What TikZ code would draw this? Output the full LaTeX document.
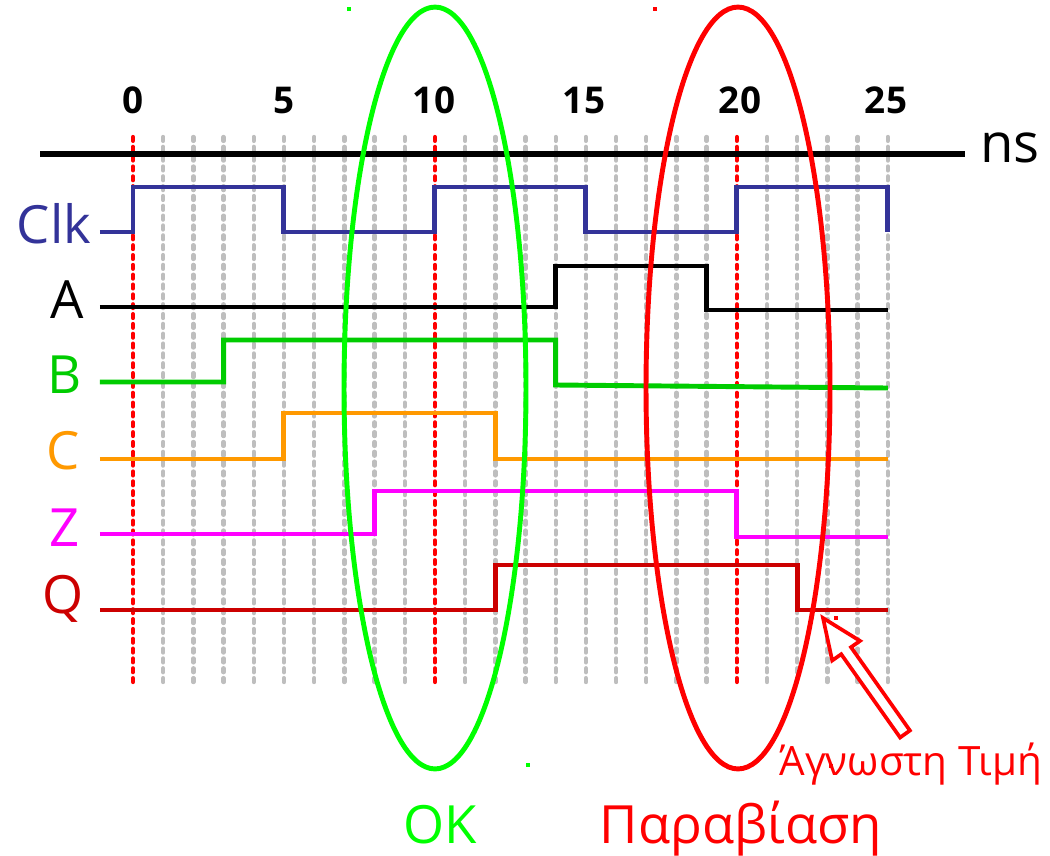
\documentclass[tikz,border=0pt]{standalone}
\usepackage{fontspec}
\setmainfont{Open Sans}
\definecolor{clkblue}{HTML}{333399}
\definecolor{bgreen}{HTML}{00CC00}
\definecolor{corange}{HTML}{FF9900}
\definecolor{zmag}{HTML}{FF00FF}
\definecolor{qred}{HTML}{CC0000}
\definecolor{ellgreen}{HTML}{00FF00}
\definecolor{ellred}{HTML}{FF0000}
\definecolor{gridgray}{HTML}{BEBEBE}
\tikzset{
  gridline/.style={draw=gridgray, line width=2.5pt, line cap=round, dash pattern=on 2.2pt off 3.4pt},
  redline/.style={draw=ellred, line width=2.4pt, line cap=round, dash pattern=on 2.2pt off 3.4pt},
  sig/.style={line width=2.8pt},
  lbl/.style={inner sep=0pt, anchor=base, font=\fontsize{30}{36}\selectfont},
  num/.style={inner sep=0pt, anchor=base, font=\fontsize{21}{26}\selectfont\bfseries},
  ell/.style={line width=2.8pt},
  dot/.style={inner sep=0pt, minimum size=2.2pt}
}
\begin{document}
\begin{tikzpicture}[x=0.02cm,y=-0.02cm]
\useasboundingbox (0,0) rectangle (1050,855);
% time scope: x in ns
\begin{scope}[x=0.604cm, xshift=2.66cm]
  \foreach \t in {1,...,9,11,12,...,19,21,22,...,25}
    \draw[gridline] (\t,137) -- (\t,684);
  \foreach \t in {0,10,20}
    \draw[redline] (\t,137) -- (\t,684);
\end{scope}
% time axis
\draw[line width=3pt] (40,154) -- (965,154);
\node[lbl, font=\fontsize{31}{36}\selectfont] (ns) at (1010,162) {ns};
\foreach \v/\x in {0/133,5/284,10/434,15/584,20/740,25/886}
  \node[num] (n\v) at (\x,113) {\v};
% signal labels
\node[lbl, text=clkblue] (lclk) at (54,243) {Clk};
\node[lbl, text=black] (lA) at (67,318) {A};
\node[lbl, text=bgreen] (lB) at (65,393) {B};
\node[lbl, text=corange] (lC) at (63,469) {C};
\node[lbl, text=zmag] (lZ) at (65,546) {Z};
\node[lbl, text=qred] (lQ) at (63,613) {Q};
% signals
\begin{scope}[x=0.604cm, xshift=2.66cm]
  \draw[sig, clkblue] (-1.1,232) -| (0,187) -| (5,232) -| (10,187) -| (15,232) -| (20,187) -| (25,232);
  \draw[sig, black] (-1.1,307) -| (14,266) -| (19,310) -- (25,310);
  \draw[sig, bgreen] (-1.1,382) -| (3,340) -| (14,385) -- (25,388);
  \draw[sig, corange] (-1.1,459) -| (5,413) -| (12,459) -- (25,459);
  \draw[sig, zmag] (-1.1,534) -| (8,491) -| (20,537) -- (25,537);
  \draw[sig, qred] (-1.1,610) -| (12,565) -| (22,610) -- (25,610);
\end{scope}
% ellipses
\draw[ell, ellgreen] (435,388) ellipse [x radius=1.82cm, y radius=7.62cm];
\draw[ell, ellred] (738,388) ellipse [x radius=1.84cm, y radius=7.62cm];
% hollow arrow
\draw[line width=2.1pt, ellred, fill=white, line join=miter]
  (823,618) -- (860.0,640.9) -- (851.0,647.2) -- (909.9,730.5)
  -- (900.1,737.5) -- (841.2,654.2) -- (832.2,660.5) -- cycle;
% bottom labels
\node[lbl, text=ellgreen] (ok) at (440,843) {OK};
\node[lbl, text=ellred] (viol) at (741,843) {Παραβίαση};
\node[lbl, text=ellred, font=\fontsize{23}{28}\selectfont] (unk) at (911,775) {Άγνωστη Τιμή};
% small stray marks
\node[dot, fill=ellgreen] (d1) at (349,9) {};
\node[dot, fill=ellred] (d2) at (655,9) {};
\node[dot, fill=ellgreen] (d3) at (528,765) {};
\node[dot, fill=ellred] (d4) at (836,618) {};
\node[dot, fill=ellred] (d5) at (831,766) {};
\end{tikzpicture}
\end{document}
